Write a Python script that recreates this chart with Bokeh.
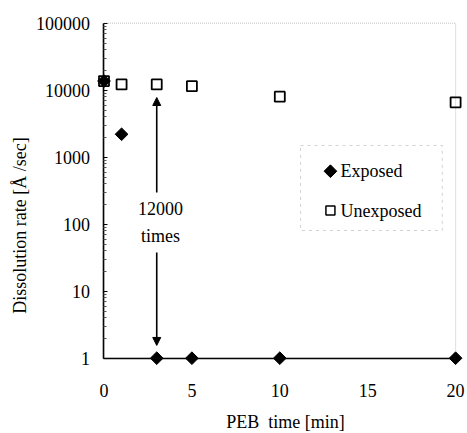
import math
from bokeh.plotting import figure
from bokeh.models import (FixedTicker, Label, Arrow, NormalHead, BoxAnnotation, Range1d,
                          NumeralTickFormatter)
from bokeh.embed import file_html
from bokeh.resources import INLINE

# ---- data ----
peb_time = [0, 1, 3, 5, 10, 20]
exposed = [13700, 2200, 1, 1, 1, 1]
unexposed = [13700, 12200, 12200, 11500, 8000, 6600]

x_ticks = [0, 5, 10, 15, 20]
y_ticks = [1, 10, 100, 1000, 10000, 100000]
y_minor = [m * 10 ** d for d in range(0, 5) for m in range(2, 10)]

series_names = ["Exposed", "Unexposed"]

FONT = "Liberation Serif"
FS = "18px"

# frame fills whole canvas; axes are pinned at x=0 / y=1 so edge markers are not clipped
p = figure(width=466, height=432, output_backend="svg", toolbar_location=None,
           y_axis_type="log",
           x_range=Range1d(-5.887, 20.620), y_range=Range1d(0.0778, 218200),
           min_border_left=0, min_border_right=0, min_border_top=0, min_border_bottom=0)
p.outline_line_color = None
p.xgrid.visible = False
p.ygrid.visible = False
p.background_fill_color = "white"
p.border_fill_color = "white"

# frame box (dotted top/right)
p.add_layout(BoxAnnotation(left=x_ticks[0], right=x_ticks[-1], bottom=y_ticks[0], top=y_ticks[-1],
                           fill_alpha=0, line_color="#333333", line_width=1, line_dash="1 1"))

# axes
xa = p.xaxis[0]
xa.ticker = FixedTicker(ticks=x_ticks)
xa.fixed_location = y_ticks[0]
xa.bounds = (x_ticks[0], x_ticks[-1])
xa.axis_line_width = 1.6
xa.axis_line_color = "black"
xa.major_tick_in = 0
xa.major_tick_out = 0
xa.minor_tick_in = 0
xa.minor_tick_out = 0
xa.major_label_standoff = 26
xa.major_label_text_font = FONT
xa.major_label_text_font_size = FS
xa.major_label_text_color = "black"

ya = p.yaxis[0]
ya.ticker = FixedTicker(ticks=y_ticks, minor_ticks=y_minor)
ya.formatter = NumeralTickFormatter(format="0")
ya.fixed_location = x_ticks[0]
ya.bounds = (y_ticks[0], y_ticks[-1])
ya.axis_line_width = 1.6
ya.axis_line_color = "black"
ya.major_tick_in = 4
ya.major_tick_out = 0
ya.minor_tick_in = 3
ya.minor_tick_out = 0
ya.minor_tick_line_color = "#555555"
ya.major_label_standoff = 14
ya.major_label_text_font = FONT
ya.major_label_text_font_size = FS
ya.major_label_text_color = "black"

# markers
p.scatter(peb_time, unexposed, marker="square", size=10, fill_color="white",
          line_color="black", line_width=1.8)
p.scatter(peb_time, exposed, marker="square", angle=math.pi / 4, size=9,
          fill_color="black", line_color="black")

# legend (dashed box, keys and labels)
p.add_layout(BoxAnnotation(left=11.18, right=19.24, bottom=80.5, top=1496, fill_alpha=0,
                           line_color="#666666", line_width=1, line_dash="3 4"))
leg_x = 12.88
leg_y = [618, 160]
p.scatter([leg_x], [leg_y[0]], marker="square", angle=math.pi / 4, size=9,
          fill_color="black", line_color="black")
p.scatter([leg_x], [leg_y[1]], marker="square", size=9, fill_color="white",
          line_color="black", line_width=1.5)
for name, yy in zip(series_names, leg_y):
    p.add_layout(Label(x=13.45, y=yy, text=name, text_font=FONT, text_font_size=FS,
                       text_color="black", text_align="left", text_baseline="middle"))

# arrows and annotation
arrow_x = 3
p.add_layout(Arrow(x_start=arrow_x, y_start=297, x_end=arrow_x, y_end=7780, line_width=1.6,
                   end=NormalHead(size=8, fill_color="black", line_color="black")))
p.add_layout(Arrow(x_start=arrow_x, y_start=37.8, x_end=arrow_x, y_end=1.55, line_width=1.6,
                   end=NormalHead(size=8, fill_color="black", line_color="black")))
p.add_layout(Label(x=3.21, y=171.5, text="12000", text_font=FONT, text_font_size=FS,
                   text_color="black", text_align="center", text_baseline="middle"))
p.add_layout(Label(x=3.21, y=67.8, text="times", text_font=FONT, text_font_size=FS,
                   text_color="black", text_align="center", text_baseline="middle"))

# axis titles
p.add_layout(Label(x=10.32, y=0.1135, text="PEB\u00a0 time [min]", text_font=FONT,
                   text_font_size=FS, text_color="black", text_align="center",
                   text_baseline="middle"))
p.add_layout(Label(x=-4.75, y=95.6, text="Dissolution rate [Å /sec]", text_font=FONT,
                   text_font_size=FS, text_color="black", text_align="center",
                   text_baseline="middle", angle=math.pi / 2))

open("out.html", "w").write(file_html(p, INLINE))
